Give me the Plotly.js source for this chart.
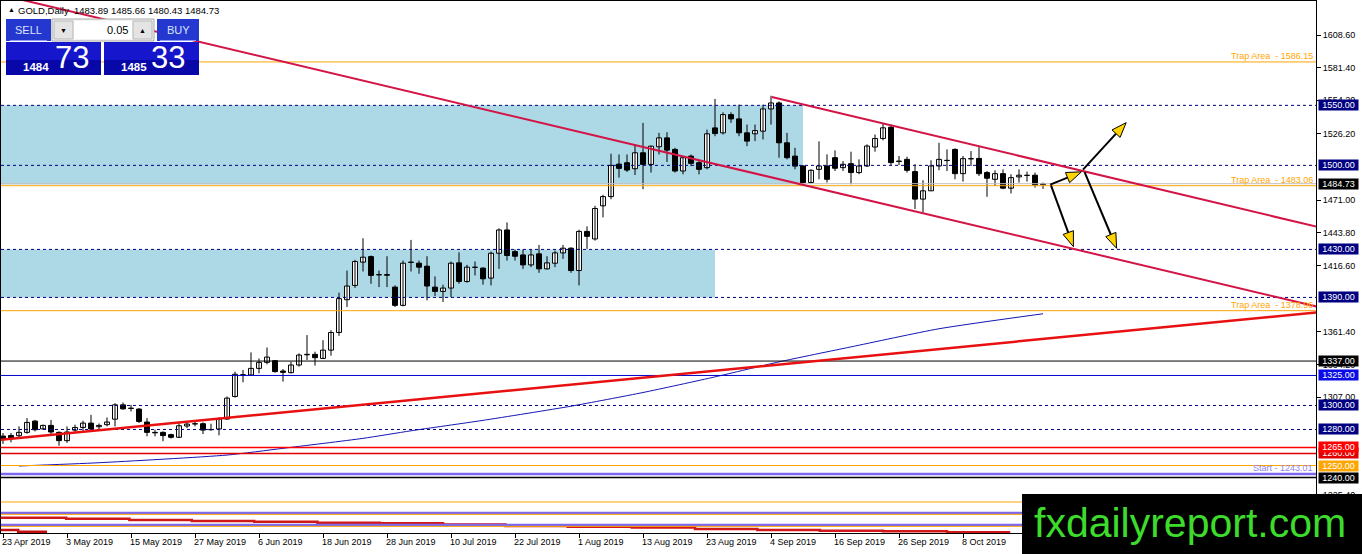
<!DOCTYPE html>
<html><head><meta charset="utf-8">
<script src="https://cdn.plot.ly/plotly-3.0.1.min.js"></script>
<style>html,body{margin:0;padding:0;background:#fff;}#chart{width:1362px;height:554px;}</style>
</head><body><div id="chart"></div>
<script>
// ---------------- DATA ----------------
const symbolTitle = 'GOLD,Daily  1483.89 1485.66 1480.43 1484.73';
const opens = [1274.5,1275.0,1274.8,1277.6,1287.0,1280.5,1283.4,1277.6,1270.7,1279.5,
1281.7,1285.3,1282.3,1284.0,1288.6,1300.5,1297.8,1297.0,1286.2,1277.6,
1277.6,1275.7,1273.5,1282.9,1284.8,1284.8,1280.0,1280.4,1288.7,1307.5,
1325.5,1325.4,1330.9,1335.9,1337.3,1328.7,1327.3,1333.7,1342.2,1342.6,
1339.2,1346.1,1360.8,1388.1,1400.0,1419.4,1424.0,1409.0,1409.0,1398.6,
1383.4,1419.4,1418.5,1416.0,1398.6,1395.0,1397.8,1418.8,1403.3,1415.2,
1414.4,1406.1,1426.8,1446.2,1428.2,1425.4,1417.1,1426.3,1413.8,1418.5,
1427.1,1431.0,1412.4,1445.0,1438.7,1466.3,1474.0,1501.0,1502.2,1497.2,
1510.5,1500.8,1515.5,1522.9,1513.3,1495.3,1507.7,1502.2,1498.1,1531.2,
1527.1,1542.3,1538.7,1527.1,1526.3,1528.5,1547.0,1552.0,1518.8,1507.7,
1499.5,1485.7,1496.7,1499.5,1506.4,1498.1,1501.4,1494.0,1499.5,1515.3,
1522.4,1531.8,1503.6,1505.0,1494.8,1471.9,1478.8,1499.5,1504.2,1513.3,
1493.1,1505.6,1505.8,1494.0,1488.4,1493.1,1481.0,1490.4,1491.8,1491.8,
1483.89];
const highs = [1277.0,1277.0,1282.6,1289.5,1288.0,1284.0,1288.0,1278.4,1282.6,1284.0,
1287.3,1292.2,1285.0,1290.0,1301.9,1302.5,1300.5,1297.8,1289.5,1279.8,
1278.4,1276.5,1285.4,1285.4,1287.3,1285.9,1284.8,1290.1,1307.5,1328.2,
1329.6,1344.2,1339.2,1348.3,1337.9,1330.4,1336.5,1343.4,1358.6,1344.8,
1354.4,1362.7,1394.0,1412.4,1421.3,1439.3,1424.9,1412.4,1424.3,1400.0,
1420.7,1437.9,1420.7,1424.3,1407.5,1400.6,1419.9,1427.6,1417.1,1419.9,
1415.2,1428.2,1447.5,1452.5,1429.9,1429.9,1429.9,1433.7,1424.3,1429.0,
1433.7,1431.8,1446.4,1449.2,1466.3,1475.5,1509.7,1509.1,1509.1,1517.4,
1535.4,1516.5,1527.1,1527.6,1514.6,1507.7,1509.1,1503.6,1529.8,1555.3,
1544.2,1544.2,1550.6,1534.0,1534.0,1550.6,1558.0,1553.3,1527.1,1514.6,
1500.3,1496.7,1520.0,1509.2,1512.5,1503.6,1511.4,1505.0,1517.5,1525.7,
1534.6,1534.0,1507.8,1507.2,1500.9,1487.6,1504.2,1518.8,1513.3,1514.2,
1507.8,1511.9,1515.2,1495.3,1495.9,1496.7,1492.6,1496.7,1494.8,1494.0,
1485.66];
const lows = [1268.0,1269.3,1273.0,1276.5,1278.4,1280.0,1275.0,1266.5,1268.8,1277.0,
1278.4,1279.3,1280.0,1282.6,1282.6,1296.4,1295.0,1285.4,1274.3,1274.3,
1270.2,1272.4,1272.9,1281.2,1282.6,1276.2,1279.0,1275.1,1288.1,1306.6,
1319.3,1325.0,1326.8,1334.3,1327.3,1319.9,1326.8,1332.3,1337.9,1333.2,
1338.7,1341.5,1358.0,1382.0,1398.0,1411.6,1401.4,1398.6,1398.6,1382.0,
1382.5,1411.6,1409.7,1387.6,1391.2,1386.2,1390.3,1401.4,1402.2,1408.3,
1400.6,1400.0,1413.8,1420.7,1420.7,1413.8,1415.2,1410.5,1413.3,1415.2,
1422.1,1410.5,1400.0,1430.4,1437.3,1456.7,1471.8,1489.8,1494.5,1492.0,
1480.1,1494.0,1509.1,1502.8,1494.0,1492.5,1499.4,1492.5,1496.7,1524.3,
1525.7,1535.4,1524.3,1516.0,1520.2,1521.6,1534.0,1506.4,1505.0,1496.7,
1484.9,1484.9,1488.4,1485.7,1495.3,1495.3,1484.3,1492.6,1498.7,1511.4,
1520.8,1500.3,1500.3,1494.0,1463.6,1460.8,1478.8,1495.9,1495.3,1488.4,
1486.5,1499.5,1491.2,1473.8,1482.9,1480.2,1476.6,1485.7,1486.5,1481.5,
1480.43];
const closes = [1272.0,1272.9,1277.6,1285.9,1279.8,1283.4,1277.9,1270.7,1277.9,1281.7,
1285.3,1280.4,1283.4,1286.2,1300.5,1297.2,1297.5,1286.7,1277.6,1277.2,
1274.9,1273.5,1283.1,1284.5,1284.6,1279.5,1279.8,1288.7,1306.1,1326.0,
1325.4,1330.9,1335.9,1340.3,1328.2,1327.6,1333.7,1342.0,1342.6,1339.8,
1346.1,1360.8,1389.0,1399.5,1419.9,1423.5,1408.3,1408.8,1408.5,1383.4,
1418.5,1419.2,1415.2,1399.5,1395.0,1397.8,1418.5,1403.3,1415.2,1415.0,
1405.5,1426.8,1446.2,1424.9,1424.3,1417.1,1425.4,1413.8,1418.8,1427.1,
1431.0,1412.4,1445.0,1440.9,1464.1,1474.0,1500.0,1497.5,1496.1,1510.5,
1500.8,1516.0,1522.9,1512.7,1495.3,1506.4,1501.7,1496.7,1526.3,1526.5,
1542.3,1538.7,1527.1,1520.2,1529.0,1547.0,1552.0,1518.8,1506.4,1499.4,
1485.7,1495.9,1499.5,1488.4,1497.6,1500.9,1494.0,1499.5,1516.1,1522.4,
1531.3,1502.3,1503.2,1495.9,1471.9,1478.8,1499.5,1505.0,1504.0,1493.1,
1505.6,1505.4,1493.1,1489.3,1493.1,1481.0,1489.8,1491.8,1491.6,1483.7,
1484.73];

// x-axis date labels (bar index of each label)
const dateLabelBars = [0,8,16,24,32,40,48,56,64,72,80,88,96,104,112,120];
const dateLabels = ['23 Apr 2019','3 May 2019','15 May 2019','27 May 2019','6 Jun 2019','18 Jun 2019',
  '28 Jun 2019','10 Jul 2019','22 Jul 2019','1 Aug 2019','13 Aug 2019','23 Aug 2019',
  '4 Sep 2019','16 Sep 2019','26 Sep 2019','8 Oct 2019'];

// price scale tick labels (those not fully covered by level boxes)
const yTickValues = [1608.6,1581.4,1554.2,1526.2,1471.0,1443.8,1416.6,1361.4,1334.2,1307.0,1225.4];

// moving average readings (bar index, price)
const maBars = [2,12,28,35,45,51,60,71,80,89,97,106,117,130];
const maValues = [1249.6,1252.3,1258.7,1264.3,1272.6,1278.9,1287.6,1299.4,1310.8,1323.8,1336.3,1348.8,1363.9,1376.4];

// horizontal levels
const levelPrices = [1586.15,1550,1500,1484.73,1483.06,1430,1390,1378.96,1337,1325,1300,1280,1265,1260,1250,1243.01,1240,1219.6,1210.4,1209.3,1200.4,1199.3];
// price-axis boxes
const boxPrices = [1550,1500,1484.73,1430,1390,1337,1325,1300,1280,1260,1265,1250,1240];
// text labels on lines
const lineLabelPrices = [1586.15,1483.06,1378.96,1243.01];
const lineLabelTexts = ['Trap Area  - 1586.15','Trap Area  - 1483.06','Trap Area  - 1378.96','Start - 1243.01'];

// zones (from bar, to bar, top, bottom)
const zoneFromBar = [-1,-1];
const zoneToBar = [100,89];
const zoneTop = [1550,1430];
const zoneBottom = [1484,1390];

// trend lines (bar, price) start and end
const trendStartBar = [-0.4,96.1,-0.4];
const trendStartPrice = [1642.25,1557.0,1271.4];
const trendEndBar = [164.2,164.2,164.2];
const trendEndPrice = [1382.45,1448.9,1377.4];

// scenario arrows (bar, price)
const arrowStartBar = [130.9,135.0,131.0,135.2];
const arrowStartPrice = [1483.9,1496.5,1483.4,1494.3];
const arrowEndBar = [134.8,140.4,133.8,139.2];
const arrowEndPrice = [1494.6,1535.6,1432.3,1430.9];

// lower stepped line readings
const stepBars = [-0.4,7.9,15.8,23.6,31.4,39.3,47.1,55.0,62.8,70.6,78.6,86.5,94.3,102.1,110.0,118.0,125.9];
const stepValues = [1206.5,1205.7,1204.6,1203.8,1203.2,1202.4,1201.9,1200.9,1199.6,1199.0,1198.3,1197.1,1196.3,1195.7,1195.2,1194.3];
const step2Bars = [-0.4,1.9,5.5];
const step2Values = [1196.3,1194.9];

// trade panel values
const sellBig = '1484', sellSmall = '73', buyBig = '1485', buySmall = '33', lotSize = '0.05';

// ---------------- STYLES / GEOMETRY ----------------
const FONT = 'Liberation Sans, Arial, sans-serif';
const L=1, T=1, W=1315, H=532;
const XR=[-0.25,164.125], YR=[1193.77,1636.92];
const levelStyles = [
 ['#FFA500',1,'solid'],['#000080',1,'3px,3px'],['#000080',1,'3px,3px'],['#C0C0C0',1,'solid'],['#FFA500',1,'solid'],
 ['#000080',1,'3px,3px'],['#000080',1,'3px,3px'],['#FFA500',1,'solid'],['#000000',1,'solid'],['#0000CD',1,'solid'],
 ['#000080',1,'3px,3px'],['#000080',1,'3px,3px'],['#FF0000',1.5,'solid'],['#E00000',1.5,'solid'],['#FFA500',1,'solid'],
 ['#7B68EE',2.5,'solid'],['#000000',1.5,'solid'],['#FFA500',1,'solid'],['#7B68EE',2.5,'solid'],['#FFA500',1,'solid'],
 ['#7B68EE',2.5,'solid'],['#FFA500',1,'solid']];
const boxColors = ['#000080','#000080','#000000','#000080','#000080','#000000','#0A0AE6','#000080','#000080','#E00000','#FF0000','#FFA500','#000000'];
const lineLabelColors = ['#FFA500','#FFA500','#FFA500','#8F84EE'];
const trendStyles = [['#D21446',2],['#D21446',2],['#E81010',2.5]];

const pxX = x => (x-L)/W, pxY = y => 1-(y-T)/H;
function toPx(i,p){return [L+(i-XR[0])/(XR[1]-XR[0])*W, T+(YR[1]-p)/(YR[1]-YR[0])*H];}
function toData(x,y){return [XR[0]+(x-L)/W*(XR[1]-XR[0]), YR[1]-(y-T)/H*(YR[1]-YR[0])];}

// ---------------- TRACES ----------------
const bars = opens.map((_,i)=>i);
const wx=[], wy=[];
bars.forEach(i=>{wx.push(i,i,null); wy.push(lows[i],highs[i],null);});
const traces = [
 {type:'scatter',mode:'lines',x:wx,y:wy,line:{color:'#000',width:1},hoverinfo:'skip',showlegend:false},
 {type:'bar',x:bars,base:bars.map(i=>Math.min(opens[i],closes[i])),
  y:bars.map(i=>Math.max(Math.abs(closes[i]-opens[i]),0.15)),width:0.62,
  marker:{color:bars.map(i=>closes[i]>=opens[i]?'#FFFFFF':'#000000'),line:{color:'#000',width:1}},
  hoverinfo:'skip',showlegend:false},
 {type:'scatter',mode:'lines',x:maBars,y:maValues,line:{color:'#1515B5',width:1,shape:'spline',smoothing:0.6},hoverinfo:'skip',showlegend:false},
 {type:'scatter',mode:'lines',x:stepBars,y:stepValues.concat([stepValues[stepValues.length-1]]),line:{color:'#D01818',width:2.5,shape:'hv'},hoverinfo:'skip',showlegend:false},
 {type:'scatter',mode:'lines',x:step2Bars,y:step2Values.concat([step2Values[step2Values.length-1]]),line:{color:'#C01010',width:2.5,shape:'hv'},hoverinfo:'skip',showlegend:false}
];

// ---------------- SHAPES ----------------
const shapes = [];
zoneTop.forEach((t,k)=>shapes.push({type:'rect',xref:'x',yref:'y',x0:zoneFromBar[k],x1:zoneToBar[k],y0:zoneBottom[k],y1:t,fillcolor:'#ADD8E6',line:{width:0},layer:'below'}));
levelPrices.forEach((p,k)=>{const s=levelStyles[k];
 shapes.push({type:'line',xref:'paper',yref:'y',x0:0,x1:1,y0:p,y1:p,line:{color:s[0],width:s[1],dash:s[2]},layer:'above'});});
trendStartBar.forEach((b,k)=>shapes.push({type:'line',xref:'x',yref:'y',x0:b,y0:trendStartPrice[k],x1:trendEndBar[k],y1:trendEndPrice[k],line:{color:trendStyles[k][0],width:trendStyles[k][1]},layer:'above'}));
arrowStartBar.forEach((b,k)=>{
 const s=toPx(b,arrowStartPrice[k]), e=toPx(arrowEndBar[k],arrowEndPrice[k]);
 const dx=e[0]-s[0], dy=e[1]-s[1], len=Math.hypot(dx,dy), ux=dx/len, uy=dy/len, nx=-uy, ny=ux;
 const hl=15, hw=5.5, bx=e[0]-ux*hl, by=e[1]-uy*hl;
 const b0=toData(bx,by), a=toData(s[0],s[1]);
 shapes.push({type:'line',xref:'x',yref:'y',x0:a[0],y0:a[1],x1:b0[0],y1:b0[1],line:{color:'#000',width:2},layer:'above'});
 const p1=toData(e[0],e[1]), p2=toData(bx+nx*hw,by+ny*hw), p3=toData(bx-nx*hw,by-ny*hw);
 shapes.push({type:'path',xref:'x',yref:'y',path:`M ${p1[0]},${p1[1]} L ${p2[0]},${p2[1]} L ${p3[0]},${p3[1]} Z`,fillcolor:'#FFD400',line:{color:'#000',width:1},layer:'above'});
});
function rectP(x0,y0,x1,y1,fill,line){shapes.push({type:'rect',xref:'paper',yref:'paper',x0:pxX(x0),x1:pxX(x1),y0:pxY(y1),y1:pxY(y0),fillcolor:fill,line:line?{color:line,width:1}:{width:0},layer:'above'});}
function lineP(x0,y0,x1,y1,c){shapes.push({type:'line',xref:'paper',yref:'paper',x0:pxX(x0),x1:pxX(x1),y0:pxY(y0),y1:pxY(y1),line:{color:c,width:1},layer:'above'});}
// trade panel
rectP(6,19,51,41,'#2438D0'); rectP(157,19,199,41,'#2438D0');
lineP(10,40.5,47,40.5,'#8C9CF0'); lineP(160,40.5,196,40.5,'#8C9CF0');
rectP(52,19,154,41,'#F2F2F2','#A8A8A8');
rectP(74,21,132,39,'#FFFFFF');
rectP(54,21,73,39,'#E4E4E4','#B8B8B8'); rectP(133,21,152,39,'#E4E4E4','#B8B8B8');
rectP(6,42,101,75,'#1616CC'); rectP(6,60,101,75,'#0808A8');
rectP(104,42,199,75,'#1616CC'); rectP(104,60,199,75,'#0808A8');
// logo
rectP(1022,494,1362,554,'#000000');

// ---------------- ANNOTATIONS ----------------
const ann = [];
dateLabelBars.forEach((b,k)=>ann.push({x:b,xref:'x',y:0,yref:'paper',xanchor:'left',yanchor:'top',yshift:-3,xshift:-2,
  text:dateLabels[k],showarrow:false,borderpad:0,font:{family:FONT,size:9,color:'#000'}}));
boxPrices.forEach((p,k)=>ann.push({x:1,xref:'paper',xanchor:'left',xshift:2,y:p,yref:'y',yanchor:'middle',
  text:p.toFixed(2),showarrow:false,bgcolor:boxColors[k],width:39,height:10,borderpad:0,align:'center',
  font:{family:FONT,size:9,color:'#FFFFFF'}}));
lineLabelPrices.forEach((p,k)=>ann.push({x:1,xref:'paper',xanchor:'right',xshift:-2,y:p,yref:'y',yanchor:'bottom',
  text:lineLabelTexts[k],showarrow:false,borderpad:0,font:{family:FONT,size:9,color:lineLabelColors[k]}}));
function textP(x,y,t,size,color,anchor,extra){ann.push(Object.assign({x:pxX(x),y:pxY(y),xref:'paper',yref:'paper',xanchor:anchor||'left',yanchor:'middle',
  text:t,showarrow:false,borderpad:0,font:{family:FONT,size:size,color:color}},extra||{}));}
textP(7,10,'▲',7,'#000');
textP(17,10.5,symbolTitle,9.5,'#000');
textP(28.5,30.5,'SELL',11,'#DCE4FF','center');
textP(178,30.5,'BUY',11,'#DCE4FF','center');
textP(63.5,30,'▼',7,'#000','center');
textP(142.5,30,'▲',7,'#000','center');
textP(129,30.5,lotSize,11,'#000','right');
textP(22,66.5,'<b>'+sellBig+'</b>',11.5,'#FFF');
textP(54,57.5,sellSmall,31,'#FFF');
textP(120,66.5,'<b>'+buyBig+'</b>',11.5,'#FFF');
textP(150,57.5,buySmall,31,'#FFF');
textP(1190,523,'fxdailyreport.com',41,'#3DDC2C','center');

const layout = {
 width:1362,height:554,margin:{l:L,r:1362-L-W,t:T,b:554-T-H,pad:0},
 paper_bgcolor:'#FFFFFF',plot_bgcolor:'#FFFFFF',showlegend:false,barmode:'overlay',
 xaxis:{range:XR,tickvals:dateLabelBars,ticks:'outside',ticklen:4,tickcolor:'#000',showticklabels:false,
   showgrid:false,zeroline:false,showline:true,linecolor:'#000',linewidth:1,mirror:true,fixedrange:true},
 yaxis:{range:YR,side:'right',tickvals:yTickValues,ticktext:yTickValues.map(v=>v.toFixed(2)),ticks:'outside',ticklen:4,
   tickcolor:'#000',tickfont:{family:FONT,size:9,color:'#000'},showgrid:false,zeroline:false,showline:true,
   linecolor:'#000',linewidth:1,mirror:true,fixedrange:true},
 shapes:shapes,annotations:ann
};
Plotly.newPlot('chart',traces,layout,{displayModeBar:false,staticPlot:true});
</script></body></html>
